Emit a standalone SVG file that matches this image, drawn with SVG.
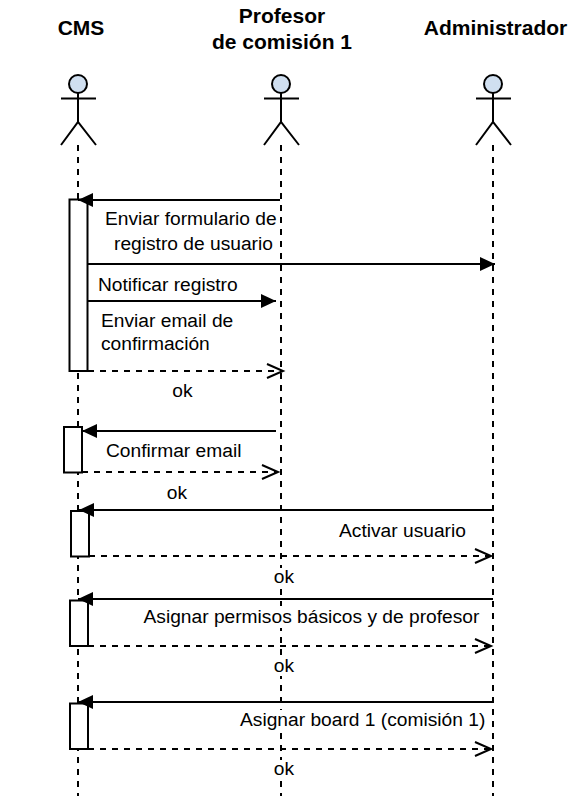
<svg xmlns="http://www.w3.org/2000/svg" width="583" height="796" viewBox="0 0 583 796">
<style>
text{font-family:"Liberation Sans",Arial,sans-serif;font-size:19.200px;fill:#000}
.t{font-weight:bold;font-size:21px;text-anchor:middle}
.m{text-anchor:middle}
.bg{fill:#fff}
.ln{fill:none;stroke:#000;stroke-width:2}
.life{fill:none;stroke:#000;stroke-width:2;stroke-dasharray:6 6}
.box{fill:#fff;stroke:#000;stroke-width:2}
.head{fill:#d0dff0;stroke:#000;stroke-width:2}
.sync{fill:none;stroke:#000;stroke-width:2;marker-end:url(#solid)}
.ret{fill:none;stroke:#000;stroke-width:2;stroke-dasharray:6 6}
.open{fill:none;stroke:#000;stroke-width:2}
</style>
<defs>
<marker id="solid" markerUnits="userSpaceOnUse" markerWidth="16" markerHeight="14" refX="15" refY="7" orient="auto"><path d="M0 0L15 7L0 14Z" fill="#000"/></marker>
</defs>
<rect width="583" height="796" fill="#fff"/>
<g id="actor-cms">
<text class="t" x="81" y="35">CMS</text>
<circle class="head" cx="78" cy="84" r="9"/>
<path class="ln" d="M78 93V122M61 98.500H96M61 145L78 122L96 145"/>
</g>
<g id="actor-profesor">
<text class="t" x="282" y="23">Profesor</text>
<text class="t" x="282" y="49">de comisión 1</text>
<circle class="head" cx="281" cy="84" r="9"/>
<path class="ln" d="M281 93V122M264 98.500H299M264 145L281 122L299 145"/>
</g>
<g id="actor-administrador">
<text class="t" x="495.500" y="35">Administrador</text>
<circle class="head" cx="493" cy="84" r="9"/>
<path class="ln" d="M493 93V122M476 98.500H511M476 145L493 122L511 145"/>
</g>
<g id="lifelines">
<path class="life" d="M78 145V796"/>
<path class="life" d="M281 145V796"/>
<path class="life" d="M493 145V796"/>
</g>
<g id="activation-1"><rect class="box" x="69.500" y="199.500" width="18" height="171.500"/></g>
<g id="activation-2"><rect class="box" x="64" y="427" width="18" height="45.500"/></g>
<g id="activation-3"><rect class="box" x="71" y="511" width="18" height="45.500"/></g>
<g id="activation-4"><rect class="box" x="70" y="600.500" width="18" height="45.500"/></g>
<g id="activation-5"><rect class="box" x="70" y="703.500" width="18" height="45.500"/></g>
<g id="label-backgrounds">
<rect class="bg" x="274" y="568" width="20" height="19"/>
<rect class="bg" x="143" y="606" width="337" height="22"/>
<rect class="bg" x="274" y="657" width="20" height="19"/>
<rect class="bg" x="240" y="710" width="245" height="22"/>
<rect class="bg" x="274" y="760" width="20" height="19"/>
</g>
<g id="connectors">
<path class="sync" d="M280 200H78"/>
<path class="sync" d="M88 264H495"/>
<path class="sync" d="M88 301H276"/>
<path class="ret" d="M88 371H282"/><path class="open" d="M267 364L283 371L267 378"/>
<path class="sync" d="M276 431H82"/>
<path class="ret" d="M82 472H277"/><path class="open" d="M262 465L278 472L262 479"/>
<path class="sync" d="M493 510H79"/>
<path class="ret" d="M89 556H490"/><path class="open" d="M475 549L491 556L475 563"/>
<path class="sync" d="M493 599H78"/>
<path class="ret" d="M88 646H490"/><path class="open" d="M475 639L491 646L475 653"/>
<path class="sync" d="M493 702H78"/>
<path class="ret" d="M88 749H490"/><path class="open" d="M475 742L491 749L475 756"/>
</g>
<g id="labels">
<text x="105" y="225">Enviar formulario de</text>
<text x="114" y="250">registro de usuario</text>
<text x="98" y="291">Notificar registro</text>
<text x="101" y="327">Enviar email de</text>
<text x="101" y="350">confirmación</text>
<text class="m" x="182.500" y="397">ok</text>
<text x="106" y="457">Confirmar email</text>
<text class="m" x="177" y="499">ok</text>
<text x="339" y="537">Activar usuario</text>
<text class="m" x="284" y="583">ok</text>
<text x="143.500" y="623">Asignar permisos básicos y de profesor</text>
<text class="m" x="284" y="672">ok</text>
<text x="240" y="726">Asignar board 1 (comisión 1)</text>
<text class="m" x="284" y="775">ok</text>
</g>
</svg>
